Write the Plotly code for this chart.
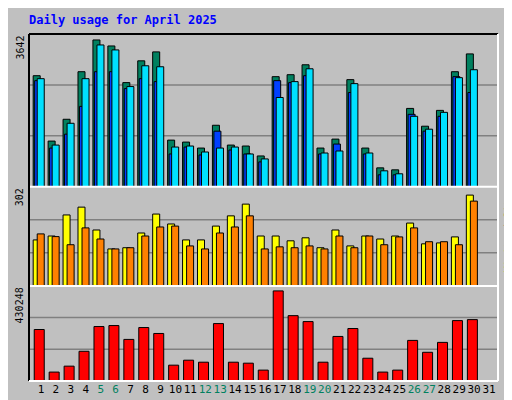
from plotly import graph_objs as go

days = list(range(1, 32))
hits = [2755, 1132, 1673, 2854, 3642, 3493, 2583, 3124, 3346, 1156, 1107, 959, 1525, 1033, 1009, 763,
        2731, 2780, 3026, 959, 1181, 2657, 959, 467, 418, 1943, 1501, 1894, 2854, 3296, 0]
files = [2632, 959, 1304, 1993, 2854, 2854, 2435, 2681, 2608, 812, 984, 787, 1378, 910, 812, 615,
         2632, 2583, 2755, 812, 1058, 2337, 812, 295, 295, 1796, 1378, 1747, 2731, 2337, 0]
pages = [2681, 1033, 1574, 2681, 3518, 3395, 2485, 3001, 2977, 984, 1009, 861, 959, 984, 812, 689,
         2214, 2608, 2927, 836, 886, 2558, 836, 394, 320, 1747, 1427, 1845, 2706, 2903, 0]
visits = [153, 166, 236, 262, 186, 123, 127, 176, 239, 206, 153, 153, 199, 233, 272, 166,
          166, 150, 160, 127, 186, 133, 166, 156, 166, 209, 140, 143, 163, 302, 0]
sites = [173, 164, 137, 193, 156, 123, 127, 166, 196, 199, 133, 123, 176, 196, 233, 123,
         130, 127, 133, 123, 166, 127, 166, 137, 163, 193, 147, 147, 137, 282, 0]
kbytes = [245856, 42552, 70920, 141840, 260040, 264768, 198576, 255312, 226944, 75648, 99288, 89832,
          274224, 89832, 85104, 52008, 430248, 312048, 283680, 89832, 212760, 250584, 108744, 42552,
          52008, 193848, 137112, 184392, 288408, 293136, 0]
weekends = [5, 6, 12, 13, 19, 20, 26, 27]

mono = "DejaVu Sans Mono"
line = dict(color="black", width=1)

fig = go.Figure()
fig.add_trace(go.Bar(x=days, y=hits, width=0.47, offset=-0.52, marker=dict(color="#00805F", line=line), xaxis="x", yaxis="y3"))
fig.add_trace(go.Bar(x=days, y=files, width=0.47, offset=-0.42, marker=dict(color="#0040FF", line=line), xaxis="x", yaxis="y3"))
fig.add_trace(go.Bar(x=days, y=pages, width=0.47, offset=-0.25, marker=dict(color="#00E0FF", line=line), xaxis="x", yaxis="y3"))
fig.add_trace(go.Bar(x=days, y=visits, width=0.47, offset=-0.52, marker=dict(color="#FFFF00", line=line), xaxis="x", yaxis="y2"))
fig.add_trace(go.Bar(x=days, y=sites, width=0.47, offset=-0.25, marker=dict(color="#FF8000", line=line), xaxis="x", yaxis="y2"))
fig.add_trace(go.Bar(x=days, y=kbytes, width=0.67, offset=-0.45, marker=dict(color="#FF0000", line=line), xaxis="x", yaxis="y"))

ticktext = [f"<span style='color:#00805F'>{d}</span>" if d in weekends else str(d) for d in days]

yax = dict(showticklabels=False, showgrid=False, zeroline=False, fixedrange=True)
fig.update_layout(
    width=512, height=400, barmode="overlay", showlegend=False,
    paper_bgcolor="#C0C0C0", plot_bgcolor="#C0C0C0",
    margin=dict(l=21, r=22, t=26, b=24),
    xaxis=dict(range=[0.2, 31.6], tickvals=days, ticktext=ticktext, showgrid=False, zeroline=False,
               ticks="", tickangle=0, tickfont=dict(family=mono, size=11, color="black")),
    yaxis=dict(domain=[0, 0.274], range=[0, 454000], **yax),
    yaxis2=dict(domain=[0.274, 0.56], range=[0, 330], **yax),
    yaxis3=dict(domain=[0.56, 1], range=[0, 3790], **yax),
)

shapes = []
for ya, (lo, hi) in [("y", (0, 0.274)), ("y2", (0.274, 0.56)), ("y3", (0.56, 1))]:
    for f in (1 / 3, 2 / 3):
        yy = lo + (hi - lo) * f
        shapes.append(dict(type="line", xref="paper", yref="paper", x0=0, x1=1, y0=yy, y1=yy,
                           line=dict(color="#808080", width=1.5), layer="below"))
for yy in (0.274, 0.56):
    shapes.append(dict(type="line", xref="paper", yref="paper", x0=0, x1=1, y0=yy, y1=yy,
                       line=dict(color="white", width=2)))
# plot frame: dark top/left, light bottom/right
shapes += [
    dict(type="line", xref="paper", yref="paper", x0=0, x1=1, y0=1, y1=1, line=dict(color="black", width=2)),
    dict(type="line", xref="paper", yref="paper", x0=0, x1=0, y0=0, y1=1, line=dict(color="black", width=2)),
    dict(type="line", xref="paper", yref="paper", x0=0, x1=1, y0=0, y1=0, line=dict(color="white", width=2)),
    dict(type="line", xref="paper", yref="paper", x0=1, x1=1, y0=0, y1=1, line=dict(color="white", width=2)),
]
fig.update_layout(shapes=shapes)

ann = dict(xref="paper", yref="paper", showarrow=False, textangle=-90, font=dict(family=mono, size=10, color="black"))
fig.add_annotation(x=0, y=1, xanchor="right", yanchor="top", xshift=-2, text="3642", **ann)
fig.add_annotation(x=0, y=0.56, xanchor="right", yanchor="top", xshift=-2, text="302", **ann)
fig.add_annotation(x=0, y=0.274, xanchor="right", yanchor="top", xshift=-2, text="430248", **ann)
fig.add_annotation(x=1, y=1, xanchor="left", yanchor="top", xshift=3,
                   text="<span style='color:#00805F'>Hits</span> / <span style='color:#0040FF'>Files</span> / <span style='color:#00E0FF'>Pages</span>", **ann)
fig.add_annotation(x=1, y=0.56, xanchor="left", yanchor="top", xshift=3,
                   text="<span style='color:#FFFF00'>Visits</span> / <span style='color:#FF8000'>Sites</span>", **ann)
fig.add_annotation(x=1, y=0, xanchor="left", yanchor="bottom", xshift=3,
                   text="<span style='color:#FF0000'>KBytes</span>", **ann)
fig.add_annotation(xref="paper", yref="paper", x=-0.005, y=1.04, xanchor="left", yanchor="middle", showarrow=False,
                   text="<b>Daily usage for April 2025</b>", font=dict(family=mono, size=12, color="#0000FF"))

fig.write_html("out.html")
